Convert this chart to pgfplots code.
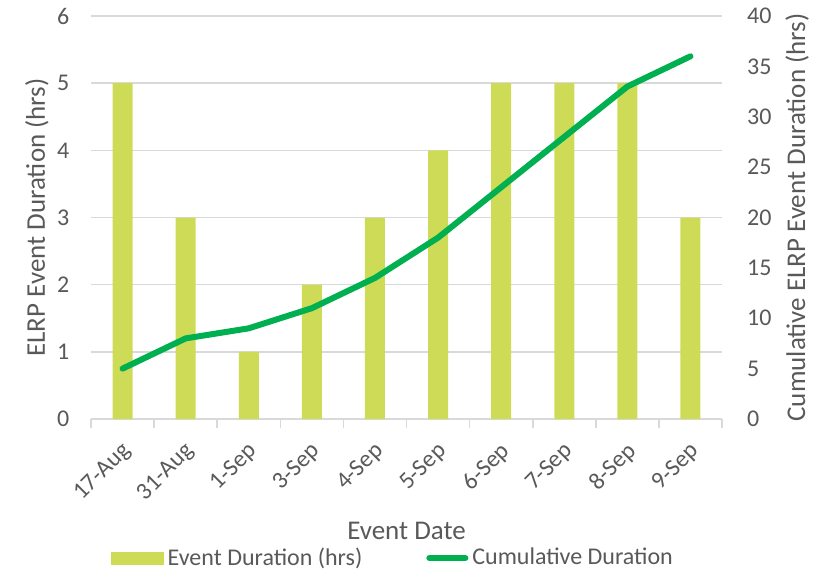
\documentclass[border=0pt]{standalone}
\usepackage{fontspec}
\setmainfont{Carlito}
\usepackage{pgfplots}
\pgfplotsset{compat=1.18}
\definecolor{barc}{RGB}{206,219,87}
\definecolor{linec}{RGB}{0,176,80}
\definecolor{txt}{RGB}{89,89,89}
\definecolor{gridc}{RGB}{217,217,217}

\pgfplotstableread{
x dur cum
0 5 5
1 3 8
2 1 9
3 2 11
4 3 14
5 4 18
6 5 23
7 5 28
8 5 33
9 3 36
}\datatable

\begin{document}
\begin{tikzpicture}
\path[use as bounding box] (-45.5pt,-76.5pt) rectangle (371pt,209.5pt);
\pgfplotsset{
  base/.style={
    scale only axis, width=315.5pt, height=201.5pt,
    anchor=south west, at={(0,0)},
    xmin=-0.5, xmax=9.5,
    /pgf/number format/assume math mode=true,
    tick label style={font=\fontsize{12}{14}\selectfont, text=txt},
    label style={font=\fontsize{13.5}{16}\selectfont, text=txt},
  }
}
\begin{axis}[base,
  ymin=0, ymax=6, ytick={0,...,6},
  axis y line*=left, axis x line*=bottom,
  y axis line style={draw=none}, ytick style={draw=none},
  y tick label style={xshift=-3pt},
  x axis line style={gridc, line width=0.8pt, -},
  ymajorgrids, grid style={gridc, line width=0.8pt},
  xtick={0,...,9},
  xticklabels={17-Aug,31-Aug,1-Sep,3-Sep,4-Sep,5-Sep,6-Sep,7-Sep,8-Sep,9-Sep},
  x tick label style={xshift=-1pt, yshift=-5pt, rotate=45, anchor=north east, inner sep=1pt},
  major x tick style={draw=none},
  minor xtick={-0.5,0.5,...,9.5},
  minor x tick style={gridc, line width=0.8pt},
  tick align=outside, minor tick length=4.5pt,
  ylabel={ELRP Event Duration (hrs)},
  ylabel style={at={(axis description cs:-0.0856,0.5)}, anchor=center},
  xlabel={Event Date},
  xlabel style={at={(axis description cs:0.5,0)}, yshift=-48pt, anchor=north},
  ytick pos=left,
]
\addplot[ybar, bar width=10pt, fill=barc, draw=none] table[x=x, y=dur] {\datatable};
\end{axis}
\begin{axis}[base,
  ymin=0, ymax=40, ytick={0,5,...,40},
  axis y line*=right, axis x line=none,
  y axis line style={draw=none}, ytick style={draw=none},
  y tick label style={xshift=9pt},
  ylabel={Cumulative ELRP Event Duration (hrs)},
  ylabel style={at={(axis description cs:1.119,0.5)}, anchor=center},
  legend style={at={(axis description cs:0.48,-0.345)}, anchor=center, draw=none,
    legend columns=2, font=\fontsize{12}{14}\selectfont, text=txt,
    /tikz/every even column/.append style={column sep=30pt}},
  legend image code/.code={\draw[#1] (0pt,0pt) -- (18pt,0pt);},
]
\addlegendimage{legend image code/.code={\fill[barc] (0pt,-3pt) rectangle (26pt,3pt);}}
\addlegendentry{Event Duration (hrs)}
\addplot[linec, line width=3pt, line cap=round, line join=round] table[x=x, y=cum] {\datatable};
\addlegendentry{Cumulative Duration}
\end{axis}
\end{tikzpicture}
\end{document}
